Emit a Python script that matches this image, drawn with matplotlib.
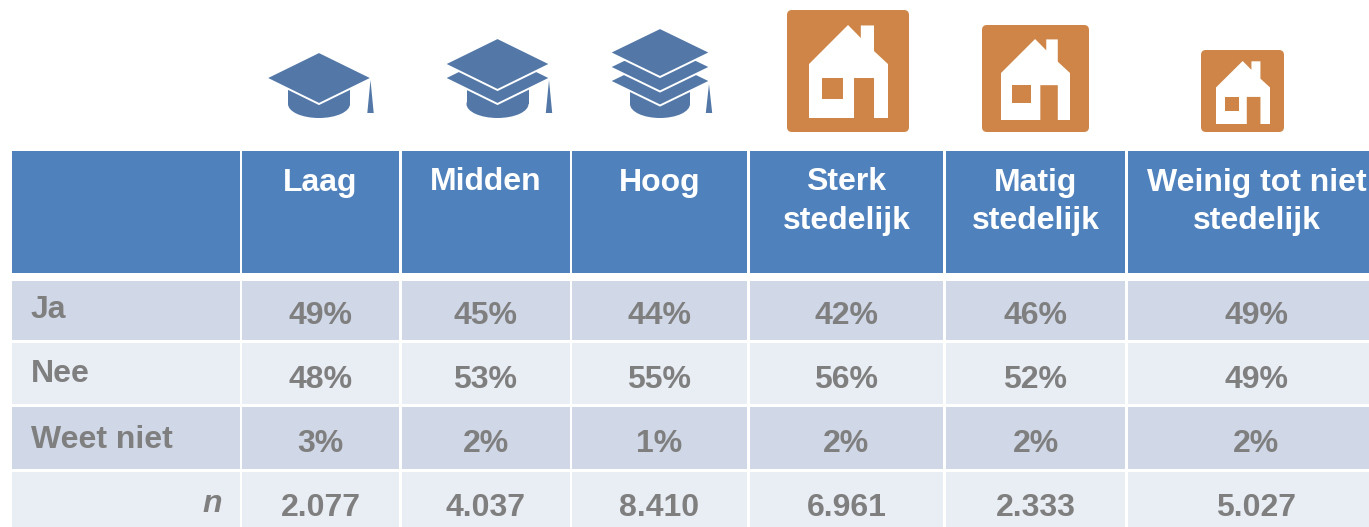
import matplotlib.pyplot as plt
from matplotlib.patches import Rectangle, Polygon, FancyBboxPatch, Ellipse

plt.rcParams["font.family"] = ["Liberation Sans", "DejaVu Sans"]

headers = ["Laag", "Midden", "Hoog", "Sterk\nstedelijk", "Matig\nstedelijk", "Weinig tot niet\nstedelijk"]
row_labels = ["Ja", "Nee", "Weet niet"]
ja = ["49%", "45%", "44%", "42%", "46%", "49%"]
nee = ["48%", "53%", "55%", "56%", "52%", "49%"]
weet_niet = ["3%", "2%", "1%", "2%", "2%", "2%"]
n_values = ["2.077", "4.037", "8.410", "6.961", "2.333", "5.027"]

HEADER = "#4F81BD"
DARK = "#D0D8E8"
LIGHT = "#E9EDF4"
GREY = "#7F7F7F"
HAT = "#5378A8"
HOUSE = "#CE8547"

# pixel layout of the table
col_edges = [(12, 240), (242, 399), (402, 570), (572, 747), (750, 943), (946, 1125), (1128, 1369)]
col_text = [320.5, 485.5, 659.5, 846.5, 1035.5, 1256.5]
row_edges = [(281, 340), (343, 404), (407, 469), (472, 527)]
row_text = [312, 376, 440, 505]
row_colors = [DARK, LIGHT, DARK, LIGHT]

fig = plt.figure(figsize=(13.69, 5.27), dpi=100)
ax = fig.add_axes([0, 0, 1, 1])
ax.set_xlim(0, 1369)
ax.set_ylim(527, 0)
ax.axis("off")

# header + body cells
for x0, x1 in col_edges:
    ax.add_patch(Rectangle((x0, 151), x1 - x0, 122, color=HEADER, lw=0))
    for (y0, y1), c in zip(row_edges, row_colors):
        ax.add_patch(Rectangle((x0, y0), x1 - x0, y1 - y0, color=c, lw=0))

for x, h in zip(col_text, headers):
    for k, line in enumerate(h.split("\n")):
        ax.text(x, 179 + 38.5 * k, line, color="white", fontsize=23, fontweight="bold",
                ha="center", va="center_baseline")

for y, vals in zip(row_text, [ja, nee, weet_niet, n_values]):
    for x, v in zip(col_text, vals):
        ax.text(x, y, v, color=GREY, fontsize=23, fontweight="bold", ha="center", va="center_baseline")

for y, lab in zip([306, 371, 436], row_labels):
    ax.text(31, y, lab, color=GREY, fontsize=23, fontweight="bold", ha="left", va="center_baseline")
ax.text(222, 500, "n", color=GREY, fontsize=23, fontweight="bold", style="italic", ha="right", va="center_baseline")


def draw_hat(cx, half_w, half_h, tips, body_w, tassel_top):
    # tips = y of the left/right point of each layer, top layer first
    ax.add_patch(Ellipse((cx, 104), 2 * body_w, 28, color=HAT, lw=0))
    ax.add_patch(Rectangle((cx - body_w, 88), 2 * body_w, 16, color=HAT, lw=0))
    ax.add_patch(Polygon([(cx + half_w, tassel_top), (cx + half_w + 3.2, 113), (cx + half_w - 3.2, 113)],
                         closed=True, facecolor=HAT, lw=0))
    for t in reversed(tips):
        ax.add_patch(Polygon([(cx - half_w - 1.5, t), (cx, t - half_h - 1), (cx + half_w + 1.5, t), (cx, t + half_h + 1)],
                             closed=True, facecolor=HAT, edgecolor="white", lw=1.4, joinstyle="miter"))


draw_hat(319, 51.5, 25, [78], 31, 80)
draw_hat(497.5, 51.5, 25, [64, 78], 31, 80)
draw_hat(660, 49, 23.5, [52.5, 67, 81], 30, 84)

# house outline, 0-1 inside its own bounding box
house_shape = [(0, 0.42), (0.494, 0), (0.656, 0.14), (0.656, 0.005), (0.823, 0.005), (0.823, 0.28),
               (1, 0.42), (1, 1), (0.823, 1), (0.823, 0.57), (0.57, 0.57), (0.57, 1), (0, 1)]
window = (0.165, 0.57, 0.265, 0.225)


def draw_house(x0, y0, x1, y1, hx0, hy0, hx1, hy1):
    ax.add_patch(FancyBboxPatch((x0 + 4, y0 + 4), x1 - x0 - 8, y1 - y0 - 8, boxstyle="round,pad=4,rounding_size=5",
                                facecolor=HOUSE, lw=0))
    w, h = hx1 - hx0, hy1 - hy0
    ax.add_patch(Polygon([(hx0 + a * w, hy0 + b * h) for a, b in house_shape], closed=True, facecolor="white", lw=0))
    ax.add_patch(Rectangle((hx0 + window[0] * w, hy0 + window[1] * h), window[2] * w, window[3] * h,
                           facecolor=HOUSE, lw=0))


draw_house(787, 10, 909, 132, 809, 25, 888, 118)
draw_house(982, 25, 1089, 132, 1001, 39, 1070, 120)
draw_house(1201, 50, 1284, 132, 1216, 61, 1270, 124)

fig.savefig("out.png", dpi=100)
